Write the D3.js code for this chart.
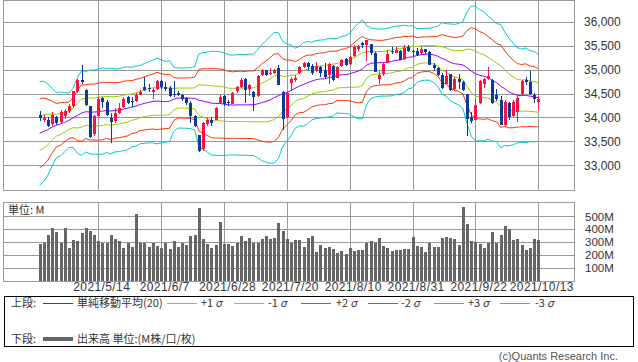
<!DOCTYPE html>
<html lang="ja">
<head>
<meta charset="UTF-8">
<title>Bollinger Band Chart</title>
<script src="https://d3js.org/d3.v7.min.js"></script>
<style>
  body { margin: 0; background: #fff; }
  svg text { font-family: "Noto Sans CJK JP", "DejaVu Sans", sans-serif; fill: #333; }
  svg .num text, svg text.num { font-family: "Liberation Sans", Arial, sans-serif; }
</style>
</head>
<body>
<svg width="638" height="362"></svg>
<script>
// trading days 2021/4/26 - 2021/10/13
const dates = [
  "4/26","4/27","4/28","4/29","4/30","5/3","5/4","5/5","5/6","5/7",
  "5/10","5/11","5/12","5/13","5/14","5/17","5/18","5/19","5/20","5/21",
  "5/24","5/25","5/26","5/27","5/28","6/1","6/2","6/3","6/4","6/7",
  "6/8","6/9","6/10","6/11","6/14","6/15","6/16","6/17","6/18","6/21",
  "6/22","6/23","6/24","6/25","6/28","6/29","6/30","7/1","7/2","7/6",
  "7/7","7/8","7/9","7/12","7/13","7/14","7/15","7/16","7/19","7/20",
  "7/21","7/22","7/23","7/26","7/27","7/28","7/29","7/30","8/2","8/3",
  "8/4","8/5","8/6","8/9","8/10","8/11","8/12","8/13","8/16","8/17",
  "8/18","8/19","8/20","8/23","8/24","8/25","8/26","8/27","8/30","8/31",
  "9/1","9/2","9/3","9/7","9/8","9/9","9/10","9/13","9/14","9/15",
  "9/16","9/17","9/20","9/21","9/22","9/23","9/24","9/27","9/28","9/29",
  "9/30","10/1","10/4","10/5","10/6","10/7","10/8","10/11","10/12","10/13"
];

const opens = [
  34060,33950,33950,33860,34000,33900,34030,34130,34240,34550,
  34790,34580,34230,33650,34030,34400,34320,33980,33920,34100,
  34220,34420,34340,34340,34480,34640,34620,34540,34600,34760,
  34640,34620,34500,34510,34470,34400,34310,34020,33630,33330,
  33870,33940,33950,34300,34440,34330,34290,34550,34640,34800,
  34600,34540,34440,34880,34990,34900,34940,35030,34540,34000,
  34720,34790,34930,35060,35140,35070,34980,35060,35000,34880,
  35070,34830,35080,35230,35110,35280,35440,35560,35520,35530,
  35350,34800,34910,35150,35400,35360,35390,35220,35480,35400,
  35400,35340,35430,35380,35090,35030,34890,34700,34900,34600,
  34810,34740,34500,34000,33950,34300,34710,34800,34790,34480,
  34370,33850,34300,34030,34120,34500,34780,34750,34470,34330
];
const highs = [
  34130,34060,34000,34110,34020,34150,34170,34280,34560,34810,
  35091,34600,34240,34060,34420,34430,34360,34090,34200,34300,
  34420,34450,34430,34520,34580,34849,34700,34620,34790,34780,
  34750,34650,34760,34560,34500,34420,34340,34060,33640,33900,
  33980,34000,34220,34470,34480,34370,34530,34650,34830,34830,
  34700,34560,34890,35010,35000,35040,35010,35090,34550,34540,
  34850,34880,35080,35170,35170,35110,35170,35080,35130,35130,
  35100,35080,35230,35250,35290,35510,35520,35590,35632,35540,
  35380,34980,35150,35420,35470,35470,35410,35510,35520,35420,
  35450,35480,35440,35390,35140,35060,34930,35000,34920,34840,
  34900,34760,34500,34120,34380,34790,34820,35060,34800,34600,
  34450,34360,34330,34360,34440,34790,34840,34980,34520,34440
];
const lows = [
  33920,33900,33800,33820,33840,33890,33960,34100,34200,34520,
  34700,34250,33560,33620,34000,34200,34040,33473,33880,34080,
  34200,34280,34220,34320,34470,34550,34540,34380,34580,34600,
  34560,34430,34430,34450,34350,34270,33880,33790,33270,33300,
  33830,33830,33940,34290,34250,34240,34280,34520,34620,34300,
  34450,34145,34430,34860,34860,34880,34900,34670,33741,33980,
  34560,34740,34920,35030,34980,34890,34960,34850,34800,34700,
  34770,34820,35050,35080,35090,35270,35400,35450,35180,35300,
  34950,34690,34860,35140,35330,35340,35200,35200,35380,35290,
  35280,35320,35320,35090,34970,34870,34600,34700,34560,34560,
  34600,34550,33613,33880,33940,34290,34620,34790,34290,34340,
  33840,33800,33940,34000,33900,34480,34680,34470,34300,34150
];
const closes = [
  33981.57,33984.93,33820.38,34060.36,33874.85,34113.23,34133.03,34230.34,34548.53,34777.76,
  34742.82,34269.16,33587.66,34021.45,34382.13,34327.79,34060.66,33896.04,34084.15,34207.84,
  34393.98,34312.46,34323.05,34464.64,34529.45,34575.31,34600.38,34577.37,34756.39,34630.24,
  34599.82,34447.14,34466.24,34479.60,34393.75,34299.33,34033.67,33823.45,33290.08,33876.97,
  33945.58,33874.24,34196.82,34433.84,34283.27,34292.29,34502.51,34633.53,34786.35,34577.37,
  34681.79,34421.93,34870.16,34996.18,34888.79,34933.23,34987.02,34687.85,33962.04,34511.99,
  34798.00,34823.35,35061.55,35144.31,35058.52,34930.93,35084.53,34935.47,34838.16,35116.40,
  34792.67,35064.25,35208.51,35101.85,35264.67,35484.97,35499.85,35515.38,35625.40,35343.28,
  34960.69,34894.12,35120.08,35335.71,35366.26,35405.50,35213.12,35455.80,35399.84,35360.73,
  35312.53,35443.82,35369.09,35100.00,35031.07,34879.38,34607.72,34869.63,34577.57,34814.39,
  34751.32,34584.88,33970.47,33919.84,34258.32,34764.82,34798.00,34869.37,34299.99,34390.72,
  33843.92,34326.46,34002.92,34314.67,34416.99,34754.94,34746.25,34496.06,34378.34,34377.81
];
// closes of the 19 sessions before the first candle (lookback for the 20-day band)
const priorCloses = [
  33171.37,33066.96,32981.55,33153.21,33527.19,33430.24,33446.26,33503.57,33800.60,33745.40,
  33677.27,33730.89,34035.99,34200.67,34077.63,33821.30,34137.31,33815.90,34043.49
];
// volume, millions
const volumes = [
  285,296,355,410,379,296,410,256,316,309,
  371,410,387,355,309,296,296,355,324,309,
  256,296,262,520,296,296,262,296,270,256,
  296,246,309,262,296,277,348,358,569,327,
  285,256,277,457,285,285,270,296,348,309,
  332,296,296,324,348,324,332,449,387,324,
  296,316,316,262,330,348,223,277,251,264,
  246,212,230,207,256,230,238,238,296,309,
  296,335,270,251,230,238,238,246,246,337,
  270,262,223,296,262,262,329,342,335,327,
  277,572,441,309,303,288,256,296,379,296,
  355,425,402,316,324,277,238,256,324,316
];

const tickDates = ["5/14","6/7","6/28","7/20","8/10","8/31","9/22","10/13"];
const priceTicks = [33000,33500,34000,34500,35000,35500,36000];
const volTicks = [100,200,300,400,500];

const bandStyles = [
  { k: 0, color: "#9900ff" },
  { k: 1, color: "#99cc00" }, { k: -1, color: "#99cc00" },
  { k: 2, color: "#ff3300" }, { k: -2, color: "#ff3300" },
  { k: 3, color: "#00cccc" }, { k: -3, color: "#00cccc" }
];

const svg = d3.select("svg");
const left = 3, right = 574;
const priceTop = 0, priceBottom = 190;
const volTop = 202, volBottom = 280.5;

const x = d3.scalePoint().domain(dates).range([39.6, 538.3]);
const y = d3.scaleLinear().domain([32480, 36460]).range([priceBottom, priceTop]);
const yv = d3.scaleLinear().domain([0, 613]).range([volBottom, volTop]);

// 20 day mean and sigma
const allCloses = priorCloses.concat(closes);
const stats = closes.map((c, i) => {
  const win = allCloses.slice(i, i + 20);
  const m = d3.mean(win);
  const sd = Math.sqrt(d3.mean(win, v => (v - m) * (v - m)));
  return { m, sd };
});

// grids and frames
const grid = svg.append("g").attr("stroke", "#999").attr("shape-rendering", "crispEdges");
grid.selectAll(".hp").data(priceTicks).enter().append("line")
  .attr("x1", left).attr("x2", right)
  .attr("y1", d => Math.round(y(d)) + 0.5).attr("y2", d => Math.round(y(d)) + 0.5);
grid.selectAll(".hv").data(volTicks).enter().append("line")
  .attr("x1", left).attr("x2", right)
  .attr("y1", d => Math.round(yv(d)) + 0.5).attr("y2", d => Math.round(yv(d)) + 0.5);
grid.selectAll(".vp").data(tickDates).enter().append("line")
  .attr("x1", d => Math.round(x(d)) + 0.5).attr("x2", d => Math.round(x(d)) + 0.5)
  .attr("y1", priceTop).attr("y2", priceBottom);
grid.selectAll(".vv").data(tickDates).enter().append("line")
  .attr("x1", d => Math.round(x(d)) + 0.5).attr("x2", d => Math.round(x(d)) + 0.5)
  .attr("y1", volTop).attr("y2", volBottom);
grid.append("rect").attr("x", left + 0.5).attr("y", priceTop + 0.5)
  .attr("width", right - left).attr("height", priceBottom - priceTop).attr("fill", "none");
grid.append("rect").attr("x", left + 0.5).attr("y", volTop + 0.5)
  .attr("width", right - left).attr("height", volBottom - volTop).attr("fill", "none");

// bands
const line = d3.line().x((d, i) => x(dates[i])).y(d => y(d));
bandStyles.forEach(b => {
  svg.append("path")
    .datum(stats.map(s => s.m + b.k * s.sd))
    .attr("d", line)
    .attr("fill", "none")
    .attr("stroke", b.color)
    .attr("stroke-width", 1);
});

// candles
const candles = svg.append("g").attr("shape-rendering", "crispEdges");
const candleData = dates.map((d, i) => ({ d, o: opens[i], h: highs[i], l: lows[i], c: closes[i] }));
const candleColor = d => d.c >= d.o ? "#ff1040" : "#0a3a9a";
candles.selectAll(".wick").data(candleData).enter().append("line")
  .attr("x1", d => Math.round(x(d.d)) + 0.5).attr("x2", d => Math.round(x(d.d)) + 0.5)
  .attr("y1", d => y(d.h)).attr("y2", d => y(d.l))
  .attr("stroke", candleColor);
candles.selectAll(".body").data(candleData).enter().append("rect")
  .attr("x", d => Math.round(x(d.d)) - 1)
  .attr("width", 3)
  .attr("y", d => y(Math.max(d.o, d.c)))
  .attr("height", d => Math.max(1, Math.abs(y(d.o) - y(d.c))))
  .attr("fill", candleColor);

// volume bars
svg.append("g").attr("shape-rendering", "crispEdges")
  .selectAll("rect").data(volumes).enter().append("rect")
  .attr("x", (v, i) => Math.round(x(dates[i])) - 1)
  .attr("width", 3)
  .attr("y", v => yv(v))
  .attr("height", v => volBottom - yv(v))
  .attr("fill", "#666");

// axes
const priceAxis = svg.append("g").attr("class", "num").attr("transform", `translate(${right},0)`)
  .call(d3.axisRight(y).tickValues(priceTicks).tickSize(0).tickPadding(10).tickFormat(d3.format(",")));
const volAxis = svg.append("g").attr("class", "num").attr("transform", `translate(${right},0)`)
  .call(d3.axisRight(yv).tickValues(volTicks).tickSize(0).tickPadding(11).tickFormat(d => d + "M"));
const dateAxis = svg.append("g").attr("class", "num").attr("transform", `translate(3,${volBottom})`)
  .call(d3.axisBottom(x).tickValues(tickDates).tickSize(0).tickPadding(2).tickFormat(d => "2021/" + d));
[priceAxis, volAxis, dateAxis].forEach(a => {
  a.select(".domain").remove();
  a.selectAll("text").attr("font-size", 12).attr("font-family", null).style("fill", "#333");
});
volAxis.selectAll("text").attr("font-size", 11.5);
dateAxis.selectAll("text").style("letter-spacing", "0.4px");

svg.append("text").attr("x", 8).attr("y", 214).attr("font-size", 11).text("単位: M");

// legend
const lg = svg.append("g");
lg.append("rect").attr("x", 4.5).attr("y", 296.5).attr("width", 629).attr("height", 50)
  .attr("fill", "#fff").attr("stroke", "#000");
lg.append("text").attr("x", 11).attr("y", 307).attr("font-size", 11).text("上段:");
lg.append("text").attr("x", 11).attr("y", 343).attr("font-size", 11).text("下段:");

const legendItems = [
  { x1: 43, color: "#9900ff", label: "単純移動平均(20)", tx: 77 },
  { x1: 167, color: "#99cc00", label: "+1", tx: 201 },
  { x1: 234, color: "#99cc00", label: "-1", tx: 268 },
  { x1: 301, color: "#ff3300", label: "+2", tx: 336 },
  { x1: 368, color: "#ff3300", label: "-2", tx: 401 },
  { x1: 434, color: "#00cccc", label: "+3", tx: 468 },
  { x1: 500, color: "#00cccc", label: "-3", tx: 535 }
];
legendItems.forEach((it, i) => {
  lg.append("line").attr("x1", it.x1).attr("x2", it.x1 + 30)
    .attr("y1", 303.5).attr("y2", 303.5).attr("stroke", it.color).attr("stroke-width", 1);
  const t = lg.append("text").attr("x", it.tx).attr("y", 307).attr("font-size", 11).text(it.label);
  if (i > 0) t.append("tspan").attr("dx", 2).attr("font-style", "italic").text("σ");
});
lg.append("line").attr("x1", 43).attr("x2", 73).attr("y1", 339).attr("y2", 339)
  .attr("stroke", "#666").attr("stroke-width", 4);
lg.append("text").attr("x", 77).attr("y", 343).attr("font-size", 11).text("出来高 単位:(M株/口/枚)");

svg.append("text").attr("class", "num").attr("x", 618).attr("y", 360).attr("font-size", 11)
  .attr("text-anchor", "end").style("fill", "#555").text("(c)Quants Research Inc.");
</script>
</body>
</html>
